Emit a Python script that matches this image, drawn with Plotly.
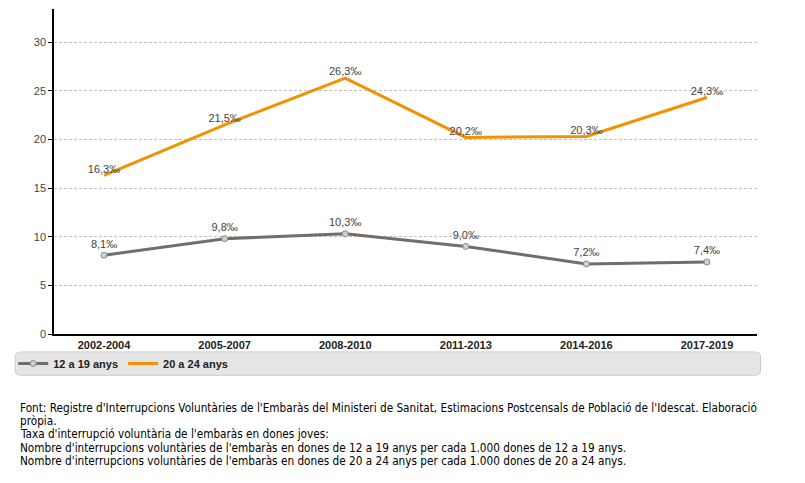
import plotly.graph_objects as go

periods = ['2002-2004', '2005-2007', '2008-2010', '2011-2013', '2014-2016', '2017-2019']
teen = [8.1, 9.8, 10.3, 9.0, 7.2, 7.4]
young = [16.3, 21.5, 26.3, 20.2, 20.3, 24.3]
series_names = ['12 a 19 anys', '20 a 24 anys']
y_ticks = [0, 5, 10, 15, 20, 25, 30]

notes = [
    "Font: Registre d'Interrupcions Voluntàries de l'Embaràs del Ministeri de Sanitat, Estimacions Postcensals de Població de l'Idescat. Elaboració",
    "pròpia.",
    "Taxa d'interrupció voluntària de l'embaràs en dones joves:",
    "Nombre d'interrupcions voluntàries de l'embaràs en dones de 12 a 19 anys per cada 1.000 dones de 12 a 19 anys.",
    "Nombre d'interrupcions voluntàries de l'embaràs en dones de 20 a 24 anys per cada 1.000 dones de 20 a 24 anys.",
]

def lbl(v):
    return ('%.1f' % v).replace('.', ',') + '‰'

fig = go.Figure()
fig.add_trace(go.Scatter(
    x=periods, y=teen, name=series_names[0], mode='lines+markers+text',
    line=dict(color='#6e6e6a', width=3),
    marker=dict(size=6, color='#d0d0d0', line=dict(color='#8a8a8a', width=1)),
    text=[lbl(v) for v in teen], textposition='top center',
    textfont=dict(size=11, color='#444444', family='Liberation Sans, Arial'),
))
fig.add_trace(go.Scatter(
    x=periods, y=young, name=series_names[1], mode='lines+text',
    line=dict(color='#f39200', width=3),
    text=[lbl(v) for v in young], textposition='top center',
    textfont=dict(size=11, color='#444444', family='Liberation Sans, Arial'),
))

fig.update_xaxes(range=[-0.415, 5.415], showline=True, linecolor='black', linewidth=1.5,
                 showgrid=False, ticks='',
                 tickfont=dict(size=11, color='#222222', family='Liberation Sans, Arial', weight='bold'))
fig.update_yaxes(range=[0, 33.4], tickvals=y_ticks, showline=True, linecolor='black', linewidth=1.5,
                 gridcolor='#c0c0c0', griddash='3px,2px', gridwidth=1, zeroline=False,
                 ticks='outside', ticklen=4, tickcolor='black',
                 tickfont=dict(size=11, color='#444444', family='Liberation Sans, Arial'))

# rounded grey legend box
fig.add_shape(type='path', xref='paper', yref='paper', layer='below',
              path='M -0.045,-0.055 L 0.995,-0.055 Q 1.005,-0.055 1.005,-0.067 L 1.005,-0.115 '
                   'Q 1.005,-0.127 0.995,-0.127 L -0.045,-0.127 Q -0.055,-0.127 -0.055,-0.115 '
                   'L -0.055,-0.067 Q -0.055,-0.055 -0.045,-0.055 Z',
              fillcolor='#e5e5e5', line=dict(color='#cccccc', width=1))

for i, t in enumerate(notes):
    fig.add_annotation(text=t, xref='paper', yref='paper', x=-0.051, y=-0.228 - i * 0.0405,
                       xanchor='left', yanchor='middle', showarrow=False,
                       font=dict(size=11.7, color='black', family='DejaVu Sans Condensed, Liberation Sans'))

# page has an 8px body margin, so the figure is drawn 8px in from the window edge
fig.update_layout(
    width=797, height=475,
    margin=dict(l=46, r=48, t=1, b=149, autoexpand=False),
    plot_bgcolor='white', paper_bgcolor='white',
    showlegend=True,
    legend=dict(orientation='h', x=-0.058, xanchor='left', y=-0.091, yanchor='middle',
                bgcolor='rgba(0,0,0,0)', itemwidth=30,
                font=dict(size=11, color='#222222', family='Liberation Sans, Arial', weight='bold')),
)
fig.write_html('out.html')
